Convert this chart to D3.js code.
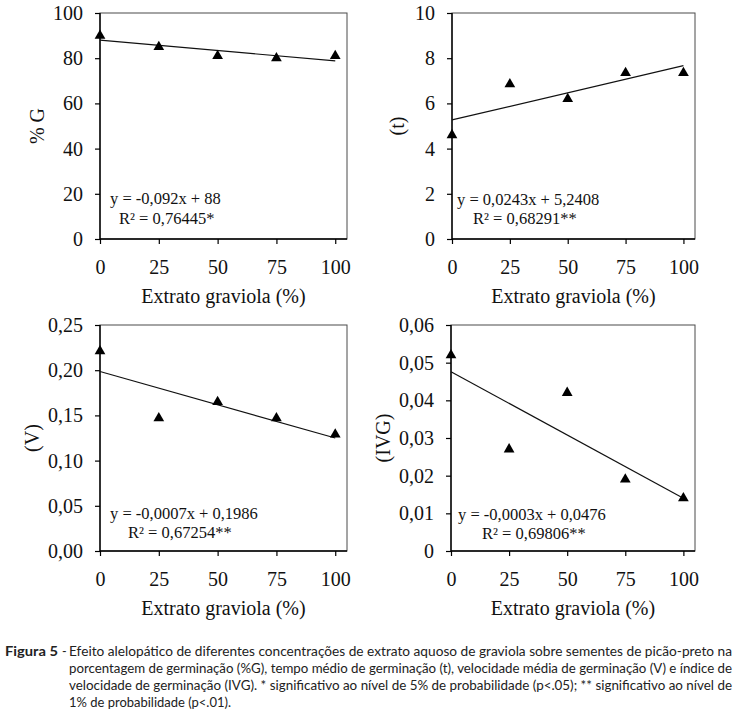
<!DOCTYPE html>
<html>
<head>
<meta charset="utf-8">
<script src="https://cdn.jsdelivr.net/npm/d3@7"></script>
<style>
  html, body { margin: 0; padding: 0; background: #fff; }
  svg { display: block; }
</style>
</head>
<body>
<div id="chart"></div>
<script>
// Dados
const X_VALUES   = [0, 25, 50, 75, 100];
const G_VALUES   = [90, 85, 81, 80, 81];
const T_VALUES   = [4.6, 6.85, 6.2, 7.35, 7.35];
const V_VALUES   = [0.221, 0.147, 0.165, 0.147, 0.129];
const IVG_VALUES = [0.052, 0.027, 0.042, 0.019, 0.014];

const X_TICKS = [0, 25, 50, 75, 100];
const G_TICKS   = [0, 20, 40, 60, 80, 100];
const T_TICKS   = [0, 2, 4, 6, 8, 10];
const V_TICKS   = [0, 0.05, 0.10, 0.15, 0.20, 0.25];
const IVG_TICKS = [0, 0.01, 0.02, 0.03, 0.04, 0.05, 0.06];

const G_TICK_LABELS   = ["0", "20", "40", "60", "80", "100"];
const T_TICK_LABELS   = ["0", "2", "4", "6", "8", "10"];
const V_TICK_LABELS   = ["0,00", "0,05", "0,10", "0,15", "0,20", "0,25"];
const IVG_TICK_LABELS = ["0", "0,01", "0,02", "0,03", "0,04", "0,05", "0,06"];

const Y_TITLES  = ["% G", "(t)", "(V)", "(IVG)"];
const EQUATIONS = ["y = -0,092x + 88", "y = 0,0243x + 5,2408", "y = -0,0007x + 0,1986", "y = -0,0003x + 0,0476"];
const R2_TEXTS  = ["R² = 0,76445*", "R² = 0,68291**", "R² = 0,67254**", "R² = 0,69806**"];
const X_TITLE = "Extrato graviola (%)";

const CAPTION_LABEL = "Figura 5";
const CAPTION_LINES = [
  "Efeito alelopático de diferentes concentrações de extrato aquoso de graviola sobre sementes de picão-preto na",
  "porcentagem de germinação (%G), tempo médio de germinação (t), velocidade média de germinação (V) e índice de",
  "velocidade de germinação (IVG). * significativo ao nível de 5% de probabilidade (p<.05); ** significativo ao nível de",
  "1% de probabilidade (p<.01)."
];

const W = 737, H = 715;
const SERIF = "'Liberation Serif', 'Times New Roman', serif";
const SANS  = "Lato, 'Liberation Sans', sans-serif";

const svg = d3.select("#chart").append("svg")
  .attr("width", W).attr("height", H)
  .attr("viewBox", `0 0 ${W} ${H}`);
svg.append("rect").attr("width", W).attr("height", H).attr("fill", "#fff");

// Painéis
const panels = [
  { values: G_VALUES,   ticks: G_TICKS,   labels: G_TICK_LABELS,   yMax: 100,  left: 100, right: 347, top: 13,  bottom: 239, titleX: 37,  eqX: 110, eqY: 204, r2X: 119, r2Y: 224 },
  { values: T_VALUES,   ticks: T_TICKS,   labels: T_TICK_LABELS,   yMax: 10,   left: 452, right: 695, top: 13,  bottom: 239, titleX: 397, eqX: 457, eqY: 205, r2X: 473, r2Y: 224 },
  { values: V_VALUES,   ticks: V_TICKS,   labels: V_TICK_LABELS,   yMax: 0.25, left: 100, right: 347, top: 325, bottom: 551, titleX: 32,  eqX: 110, eqY: 519, r2X: 128, r2Y: 538 },
  { values: IVG_VALUES, ticks: IVG_TICKS, labels: IVG_TICK_LABELS, yMax: 0.06, left: 451, right: 695, top: 325, bottom: 551, titleX: 383, eqX: 458, eqY: 520, r2X: 482, r2Y: 539 }
];

function linearFit(xs, ys) {
  const mx = d3.mean(xs), my = d3.mean(ys);
  const sxy = d3.sum(xs, (x, i) => (x - mx) * (ys[i] - my));
  const sxx = d3.sum(xs, x => (x - mx) ** 2);
  const b = sxy / sxx;
  return { a: my - b * mx, b };
}

panels.forEach((p, i) => {
  const x = d3.scaleLinear().domain([0, 105]).range([p.left, p.right]);
  const y = d3.scaleLinear().domain([0, p.yMax]).range([p.bottom, p.top]);
  const g = svg.append("g");

  // moldura
  g.append("rect")
    .attr("x", p.left).attr("y", p.top)
    .attr("width", p.right - p.left).attr("height", p.bottom - p.top)
    .attr("fill", "none").attr("stroke", "#4a4a4a").attr("stroke-width", 1);

  const yAxis = g.append("g").attr("transform", `translate(${p.left},0)`)
    .call(d3.axisLeft(y).tickValues(p.ticks).tickFormat((d, k) => p.labels[k]).tickSize(5).tickSizeOuter(0).tickPadding(12));
  const xAxis = g.append("g").attr("transform", `translate(0,${p.bottom})`)
    .call(d3.axisBottom(x).tickValues(X_TICKS).tickFormat(d => d).tickSize(5).tickSizeOuter(0).tickPadding(16));
  [yAxis, xAxis].forEach(ax => {
    ax.select(".domain").attr("stroke", "#000").attr("stroke-width", 1.4);
    ax.selectAll(".tick line").attr("stroke", "#000").attr("stroke-width", 1.2);
    ax.selectAll("text").attr("font-family", SERIF).attr("font-size", 20).attr("fill", "#111");
  });
  xAxis.select(".domain").attr("d", `M${p.left},0H${p.right}`);
  yAxis.select(".domain").attr("d", `M0,${p.bottom}V${p.top}`);

  // tendência linear (mínimos quadrados sobre os pontos)
  const fit = linearFit(X_VALUES, p.values);
  g.append("line")
    .attr("x1", x(0)).attr("y1", y(fit.a))
    .attr("x2", x(100)).attr("y2", y(fit.a + fit.b * 100))
    .attr("stroke", "#111").attr("stroke-width", 1.2);

  // pontos
  g.selectAll("path.pt").data(p.values).join("path").attr("class", "pt")
    .attr("d", d3.symbol(d3.symbolTriangle, 50))
    .attr("transform", (d, k) => `translate(${x(X_VALUES[k])},${y(d)})`)
    .attr("fill", "#000");

  // títulos
  const cy = (p.top + p.bottom) / 2;
  g.append("text")
    .attr("transform", `translate(${p.titleX},${cy}) rotate(-90)`)
    .attr("text-anchor", "middle").attr("dominant-baseline", "central")
    .attr("font-family", SERIF).attr("font-size", 20).attr("fill", "#111")
    .text(Y_TITLES[i]);
  g.append("text")
    .attr("x", (p.left + p.right) / 2).attr("y", p.bottom + 64)
    .attr("text-anchor", "middle")
    .attr("font-family", SERIF).attr("font-size", 20).attr("fill", "#111")
    .text(X_TITLE);

  // equação
  g.append("text").attr("x", p.eqX).attr("y", p.eqY)
    .attr("font-family", SERIF).attr("font-size", 16.5).attr("fill", "#111")
    .text(EQUATIONS[i]);
  g.append("text").attr("x", p.r2X).attr("y", p.r2Y)
    .attr("font-family", SERIF).attr("font-size", 16.5).attr("fill", "#111")
    .text(R2_TEXTS[i]);
});

// Legenda da figura
const cap = svg.append("g").attr("font-family", SANS).attr("font-size", 12.5).attr("fill", "#222");
cap.append("text").attr("x", 5).attr("y", 656).attr("font-weight", "bold").attr("font-size", 13.5)
  .attr("textLength", 53).attr("lengthAdjust", "spacingAndGlyphs").text(CAPTION_LABEL);
cap.append("text").attr("x", 62).attr("y", 656).text("-");
const CAP_WIDTHS = [663, 663, 663, 162];
CAPTION_LINES.forEach((line, k) => {
  cap.append("text")
    .attr("x", 69).attr("y", 656 + k * 17)
    .attr("textLength", CAP_WIDTHS[k]).attr("lengthAdjust", "spacingAndGlyphs")
    .text(line);
});
</script>
</body>
</html>
